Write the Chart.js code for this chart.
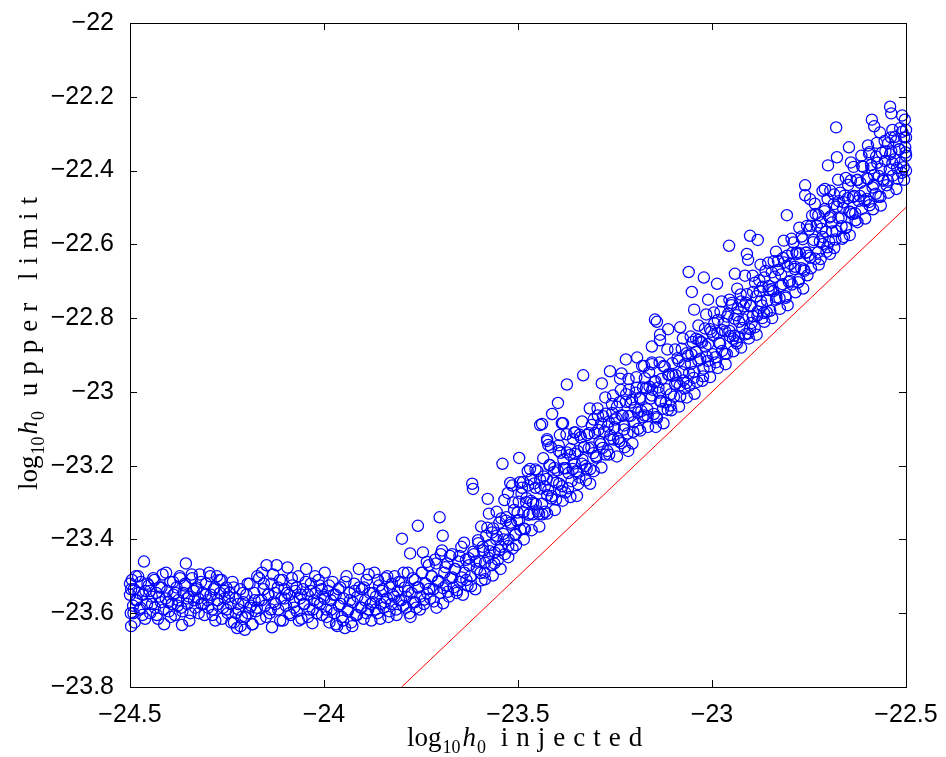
<!DOCTYPE html>
<html lang="en">
<head>
    <meta charset="UTF-8">
    <title>Upper limit vs injected h0</title>
    <script src="https://cdn.jsdelivr.net/npm/chart.js"></script>
    <style>
        body { margin: 0; background: #fff; }
        canvas { display: block; }
    </style>
</head>
<body>
    <canvas id="ulChart" width="946" height="757"></canvas>

    <script>
        // axis ticks
        const xTicks = [-24.5, -24, -23.5, -23, -22.5];
        const yTicks = [-23.8, -23.6, -23.4, -23.2, -23, -22.8, -22.6, -22.4, -22.2, -22];

        // [log10 h0 injected, log10 h0 upper limit]
        // flat part, upper limit stuck around -23.55
        const flatPoints = [
            [-24.500,-23.52],[-24.500,-23.55],[-24.498,-23.60],[-24.497,-23.635],[-24.495,-23.51],[-24.492,-23.58],[-24.490,-23.535],[-24.488,-23.625],
            [-24.485,-23.50],[-24.482,-23.565],[-24.478,-23.545],[-24.475,-23.59],[-24.472,-23.515],[-24.468,-23.605],[-24.464,-23.46],[-24.460,-23.54],
            [-24.456,-23.575],[-24.452,-23.525],[-24.448,-23.60],[-24.444,-23.555],[-24.440,-23.505],[-24.436,-23.585],[-24.432,-23.545],[-24.428,-23.615],
            [-24.424,-23.53],[-24.420,-23.57],[-24.416,-23.495],[-24.412,-23.63],[-24.408,-23.56],[-24.404,-23.54],[-24.400,-23.595],[-24.396,-23.515],
            [-24.392,-23.575],[-24.388,-23.55],[-24.384,-23.605],[-24.380,-23.53],[-24.376,-23.565],[-24.372,-23.50],[-24.368,-23.585],[-24.366,-23.632],
            [-24.362,-23.545],[-24.358,-23.52],[-24.356,-23.465],[-24.352,-23.575],[-24.348,-23.555],[-24.344,-23.60],[-24.340,-23.505],[-24.336,-23.54],
            [-24.332,-23.585],[-24.328,-23.53],[-24.324,-23.56],[-24.320,-23.495],[-24.316,-23.575],[-24.312,-23.545],[-24.308,-23.605],[-24.304,-23.52],
            [-24.300,-23.565],[-24.296,-23.49],[-24.292,-23.55],[-24.288,-23.59],[-24.284,-23.535],[-24.280,-23.62],[-24.276,-23.50],[-24.272,-23.575],
            [-24.268,-23.545],[-24.264,-23.51],[-24.260,-23.585],[-24.256,-23.56],[-24.252,-23.53],
            [-24.248,-23.60],[-24.244,-23.545],[-24.240,-23.575],[-24.236,-23.515],[-24.232,-23.625],[-24.228,-23.56],[-24.224,-23.64],[-24.220,-23.59],
            [-24.216,-23.535],[-24.212,-23.61],[-24.208,-23.57],[-24.204,-23.645],[-24.200,-23.55],[-24.196,-23.60],[-24.192,-23.52],[-24.188,-23.58],
            [-24.184,-23.63],[-24.180,-23.545],[-24.176,-23.595],[-24.172,-23.50],[-24.168,-23.565],[-24.164,-23.615],[-24.160,-23.49],[-24.156,-23.535],
            [-24.152,-23.58],[-24.148,-23.47],[-24.144,-23.55],[-24.140,-23.60],[-24.136,-23.52],[-24.134,-23.638],[-24.130,-23.57],[-24.126,-23.545],
            [-24.122,-23.47],[-24.118,-23.59],[-24.114,-23.51],[-24.110,-23.56],[-24.106,-23.62],[-24.102,-23.535],[-24.098,-23.58],[-24.094,-23.476],
            [-24.090,-23.55],[-24.086,-23.605],[-24.082,-23.525],[-24.078,-23.57],[-24.074,-23.54],[-24.070,-23.595],[-24.066,-23.50],[-24.062,-23.56],
            [-24.058,-23.615],[-24.054,-23.535],[-24.050,-23.575],[-24.046,-23.48],[-24.042,-23.55],[-24.038,-23.59],[-24.034,-23.52],[-24.030,-23.627],
            [-24.026,-23.565],[-24.022,-23.545],[-24.018,-23.60],[-24.014,-23.51],[-24.010,-23.575],[-24.006,-23.535],[-24.002,-23.555],
            [-23.998,-23.49],[-23.994,-23.59],[-23.990,-23.54],[-23.986,-23.625],[-23.982,-23.565],[-23.978,-23.515],[-23.974,-23.60],[-23.970,-23.55],
            [-23.966,-23.635],[-23.962,-23.58],[-23.958,-23.53],[-23.954,-23.61],[-23.950,-23.56],[-23.946,-23.64],[-23.942,-23.50],[-23.938,-23.59],
            [-23.934,-23.545],[-23.930,-23.625],[-23.926,-23.57],[-23.922,-23.52],[-23.918,-23.605],[-23.914,-23.555],[-23.910,-23.48],[-23.906,-23.585],
            [-23.902,-23.535],[-23.898,-23.615],[-23.894,-23.565],[-23.890,-23.51],[-23.886,-23.59],[-23.882,-23.545],[-23.878,-23.62],[-23.874,-23.57],
            [-23.870,-23.49],[-23.866,-23.555],[-23.862,-23.60],[-23.858,-23.525],[-23.854,-23.575],[-23.850,-23.54],[-23.846,-23.585],[-23.842,-23.505],
            [-23.838,-23.56],[-23.834,-23.61],[-23.830,-23.53],[-23.826,-23.575],[-23.822,-23.55],[-23.818,-23.50],[-23.814,-23.59],[-23.810,-23.54],
            [-23.806,-23.565],[-23.802,-23.515],[-23.799,-23.398],[-23.796,-23.58],[-23.792,-23.53],[-23.788,-23.555],[-23.784,-23.49],[-23.780,-23.60],
            [-23.778,-23.438],[-23.774,-23.545],[-23.770,-23.57],[-23.766,-23.51],[-23.762,-23.585],[-23.758,-23.363],[-23.756,-23.53],[-23.752,-23.555]
        ];
        const flatExtra = [
            [-24.497,-23.535],[-24.491,-23.60],[-24.485,-23.565],[-24.479,-23.50],[-24.473,-23.585],[-24.467,-23.55],[-24.461,-23.615],[-24.455,-23.52],
            [-24.449,-23.54],[-24.443,-23.575],[-24.437,-23.51],[-24.431,-23.605],[-24.425,-23.555],[-24.419,-23.53],[-24.413,-23.59],[-24.407,-23.49],
            [-24.401,-23.57],[-24.395,-23.61],[-24.389,-23.515],[-24.383,-23.545],[-24.377,-23.58],[-24.371,-23.505],[-24.365,-23.595],[-24.359,-23.525],
            [-24.353,-23.56],[-24.347,-23.62],[-24.341,-23.495],[-24.335,-23.565],[-24.329,-23.535],[-24.323,-23.60],[-24.317,-23.515],[-24.311,-23.575],
            [-24.305,-23.55],[-24.299,-23.585],[-24.293,-23.50],[-24.287,-23.605],[-24.281,-23.53],[-24.275,-23.565],[-24.269,-23.51],[-24.263,-23.615],
            [-24.257,-23.54],[-24.251,-23.59],[-24.245,-23.555],[-24.239,-23.625],[-24.233,-23.53],[-24.227,-23.60],[-24.221,-23.575],[-24.215,-23.635],
            [-24.209,-23.545],[-24.203,-23.61],[-24.197,-23.52],[-24.191,-23.585],[-24.185,-23.63],[-24.179,-23.565],[-24.173,-23.585],[-24.167,-23.505],
            [-24.161,-23.565],[-24.155,-23.52],[-24.149,-23.61],[-24.143,-23.55],[-24.137,-23.59],[-24.131,-23.495],[-24.125,-23.575],[-24.119,-23.53],
            [-24.113,-23.62],[-24.107,-23.51],[-24.101,-23.56],[-24.095,-23.545],[-24.089,-23.60],[-24.083,-23.505],[-24.077,-23.585],[-24.071,-23.53],
            [-24.065,-23.62],[-24.059,-23.55],[-24.053,-23.575],[-24.047,-23.515],[-24.041,-23.61],[-24.035,-23.54],[-24.029,-23.59],[-24.023,-23.50],
            [-24.017,-23.57],[-24.011,-23.525],[-24.005,-23.605],[-23.999,-23.56],[-23.993,-23.61],[-23.987,-23.525],[-23.981,-23.59],[-23.975,-23.55],
            [-23.969,-23.63],[-23.963,-23.535],[-23.957,-23.575],[-23.951,-23.62],[-23.945,-23.515],[-23.939,-23.595],[-23.933,-23.565],[-23.927,-23.635],
            [-23.921,-23.54],[-23.915,-23.605],[-23.909,-23.53],[-23.903,-23.585],[-23.897,-23.53],[-23.891,-23.60],[-23.885,-23.495],[-23.879,-23.575],
            [-23.873,-23.545],[-23.867,-23.59],[-23.861,-23.51],[-23.855,-23.615],[-23.849,-23.535],[-23.843,-23.57],[-23.837,-23.50],[-23.831,-23.595],
            [-23.825,-23.52],[-23.819,-23.555],[-23.813,-23.605],[-23.807,-23.515],[-23.801,-23.565],[-23.795,-23.49],[-23.789,-23.585],[-23.783,-23.54],
            [-23.777,-23.61],[-23.771,-23.505],[-23.765,-23.57],[-23.759,-23.53],[-23.753,-23.59]
        ];

        // knee, the limit starts to follow the injected value
        const kneePoints = [
            [-23.748,-23.49],[-23.745,-23.435],[-23.742,-23.575],[-23.738,-23.52],[-23.734,-23.545],[-23.730,-23.47],[-23.726,-23.56],[-23.722,-23.50],
            [-23.718,-23.535],[-23.714,-23.455],[-23.710,-23.585],[-23.706,-23.515],[-23.702,-23.34],[-23.700,-23.545],[-23.696,-23.43],[-23.694,-23.39],
            [-23.693,-23.573],[-23.690,-23.49],[-23.686,-23.525],[-23.682,-23.465],[-23.678,-23.555],[-23.674,-23.505],[-23.670,-23.44],[-23.666,-23.53],
            [-23.662,-23.48],[-23.658,-23.545],[-23.654,-23.46],[-23.650,-23.515],[-23.646,-23.42],[-23.642,-23.55],[-23.638,-23.49],[-23.634,-23.455],
            [-23.630,-23.525],[-23.626,-23.47],[-23.622,-23.50],[-23.618,-23.249],[-23.616,-23.263],[-23.614,-23.44],[-23.610,-23.535],[-23.606,-23.48],
            [-23.602,-23.41],[-23.598,-23.46],[-23.594,-23.511],[-23.590,-23.43],[-23.586,-23.49],[-23.582,-23.39],[-23.578,-23.29],[-23.576,-23.45],
            [-23.572,-23.415],[-23.568,-23.47],[-23.564,-23.37],[-23.560,-23.435],[-23.556,-23.40],[-23.552,-23.455],[-23.548,-23.355],[-23.544,-23.42],
            [-23.540,-23.195],[-23.538,-23.385],[-23.534,-23.44],[-23.530,-23.34],[-23.526,-23.274],[-23.524,-23.40],[-23.520,-23.247],[-23.518,-23.36],
            [-23.514,-23.425],[-23.510,-23.32],[-23.506,-23.385],[-23.502,-23.35]
        ];
        const kneeExtra = [
            [-23.747,-23.49],[-23.741,-23.563],[-23.735,-23.461],[-23.729,-23.534],[-23.723,-23.50],[-23.717,-23.568],[-23.711,-23.465],[-23.705,-23.512],
            [-23.699,-23.44],[-23.693,-23.532],[-23.687,-23.475],[-23.681,-23.542],[-23.675,-23.445],[-23.669,-23.503],[-23.663,-23.48],[-23.657,-23.538],
            [-23.651,-23.445],[-23.645,-23.503],[-23.639,-23.409],[-23.633,-23.51],[-23.627,-23.451],[-23.621,-23.527],[-23.615,-23.433],[-23.609,-23.46],
            [-23.603,-23.402],[-23.597,-23.491],[-23.591,-23.42],[-23.585,-23.463],[-23.579,-23.368],[-23.573,-23.432],[-23.567,-23.381],[-23.561,-23.465],
            [-23.555,-23.39],[-23.549,-23.429],[-23.543,-23.343],[-23.537,-23.40],[-23.531,-23.349],[-23.525,-23.418],[-23.519,-23.355],[-23.513,-23.30],
            [-23.507,-23.388],[-23.501,-23.327]
        ];

        // linear rise, -23.5 .. -23
        const risePoints = [
            [-23.498,-23.298],[-23.494,-23.374],[-23.490,-23.26],[-23.486,-23.326],[-23.482,-23.372],[-23.478,-23.288],[-23.474,-23.254],[-23.470,-23.33],
            [-23.466,-23.296],[-23.462,-23.332],[-23.458,-23.248],[-23.454,-23.304],[-23.450,-23.215],[-23.446,-23.331],[-23.442,-23.262],[-23.438,-23.303],
            [-23.434,-23.229],[-23.430,-23.325],[-23.426,-23.236],[-23.422,-23.267],[-23.418,-23.198],[-23.414,-23.289],[-23.410,-23.24],[-23.406,-23.206],
            [-23.402,-23.292],[-23.398,-23.213],[-23.394,-23.249],[-23.390,-23.165],[-23.386,-23.256],[-23.382,-23.207],[-23.378,-23.273],[-23.374,-23.164],
            [-23.370,-23.22],[-23.366,-23.171],[-23.362,-23.242],[-23.358,-23.128],[-23.354,-23.194],[-23.350,-23.215],[-23.346,-23.161],[-23.342,-23.232],
            [-23.338,-23.123],[-23.334,-23.184],[-23.330,-23.15],[-23.326,-23.201],[-23.322,-23.117],[-23.318,-23.153],[-23.314,-23.209],[-23.310,-23.09],
            [-23.306,-23.166],[-23.302,-23.112],[-23.298,-23.178],[-23.294,-23.064],[-23.290,-23.135],[-23.286,-23.086],[-23.282,-23.152],[-23.278,-23.108],
            [-23.274,-23.059],[-23.270,-23.16],[-23.266,-23.081],[-23.262,-23.117],[-23.258,-23.033],[-23.254,-23.129],[-23.250,-23.075],
            [-23.497,-23.179],[-23.487,-23.244],[-23.469,-23.209],[-23.443,-23.09],[-23.425,-23.133],[-23.422,-23.144],[-23.387,-23.085],[-23.374,-22.98],
            [-23.332,-22.955],[-23.397,-23.03],[-23.412,-23.06],[-23.384,-23.085],[-23.438,-23.087],[-23.425,-23.128],[-23.392,-23.117],[-23.352,-23.11],
            [-23.284,-22.977],[-23.263,-22.944],[-23.348,-23.282],[-23.314,-23.249],
            [-23.246,-23.071],[-23.242,-23.127],[-23.238,-23.028],[-23.234,-23.139],[-23.230,-23.065],[-23.226,-23.091],[-23.222,-23.027],[-23.218,-23.113],
            [-23.214,-22.994],[-23.210,-23.065],[-23.206,-23.021],[-23.202,-23.082],[-23.198,-23.043],[-23.194,-22.989],[-23.190,-23.10],[-23.186,-23.016],
            [-23.182,-23.052],[-23.178,-22.988],[-23.174,-23.064],[-23.170,-22.99],[-23.166,-23.066],[-23.162,-22.947],[-23.158,-23.018],[-23.154,-22.994],
            [-23.150,-23.06],[-23.146,-22.971],[-23.142,-23.072],[-23.138,-22.988],[-23.134,-23.024],[-23.130,-22.965],[-23.126,-23.046],[-23.122,-22.932],
            [-23.118,-22.993],[-23.114,-23.049],[-23.110,-22.955],[-23.106,-23.006],[-23.102,-22.922],[-23.098,-23.013],[-23.094,-22.954],[-23.090,-22.975],
            [-23.086,-22.916],[-23.082,-23.012],[-23.078,-22.883],[-23.074,-22.969],[-23.070,-22.925],[-23.066,-22.976],[-23.062,-22.902],[-23.058,-22.983],
            [-23.054,-22.924],[-23.050,-22.865],[-23.046,-22.946],[-23.042,-22.892],[-23.038,-22.973],[-23.034,-22.859],[-23.030,-22.91],[-23.026,-22.866],
            [-23.022,-22.937],[-23.018,-22.828],[-23.014,-22.904],[-23.010,-22.87],[-23.006,-22.931],[-23.002,-22.837],
            [-23.237,-22.964],[-23.233,-22.95],[-23.222,-22.912],[-23.193,-22.907],[-23.180,-22.93],[-23.155,-22.92],[-23.142,-22.81],[-23.113,-22.83],
            [-23.082,-22.825],[-23.134,-22.86],[-23.060,-22.675],[-23.052,-22.729],[-23.046,-22.777],[-23.147,-22.804],[-23.134,-22.845],[-23.155,-22.877],
            [-23.021,-22.69],[-23.010,-22.75],[-23.216,-23.16]
        ];
        const riseExtra = [
            [-23.497,-23.347],[-23.491,-23.276],[-23.485,-23.37],[-23.479,-23.299],[-23.473,-23.333],[-23.467,-23.237],[-23.461,-23.301],[-23.455,-23.26],
            [-23.449,-23.324],[-23.443,-23.238],[-23.437,-23.332],[-23.431,-23.256],[-23.425,-23.28],[-23.419,-23.199],[-23.413,-23.283],[-23.407,-23.217],
            [-23.401,-23.246],[-23.395,-23.16],[-23.389,-23.269],[-23.383,-23.183],[-23.377,-23.207],[-23.371,-23.261],[-23.365,-23.155],[-23.359,-23.209],
            [-23.353,-23.168],[-23.347,-23.217],[-23.341,-23.116],[-23.335,-23.195],[-23.329,-23.149],[-23.323,-23.208],[-23.317,-23.112],[-23.311,-23.151],
            [-23.305,-23.075],[-23.299,-23.174],[-23.293,-23.103],[-23.287,-23.142],[-23.281,-23.066],[-23.275,-23.17],[-23.269,-23.094],[-23.263,-23.128],
            [-23.257,-23.057],[-23.251,-23.096],[-23.245,-23.04],[-23.239,-23.134],[-23.233,-23.063],[-23.227,-23.102],[-23.221,-23.006],[-23.215,-23.065],
            [-23.209,-23.029],[-23.203,-23.108],[-23.197,-23.002],[-23.191,-23.056],[-23.185,-23.02],[-23.179,-23.069],[-23.173,-22.963],[-23.167,-23.047],
            [-23.161,-22.986],[-23.155,-23.01],[-23.149,-22.974],[-23.143,-23.068],[-23.137,-23.002],[-23.131,-23.026],[-23.125,-22.93],[-23.119,-23.029],
            [-23.113,-22.953],[-23.107,-23.037],[-23.101,-22.956],[-23.095,-22.98],[-23.089,-22.909],[-23.083,-22.983],[-23.077,-22.947],[-23.071,-22.991],
            [-23.065,-22.895],[-23.059,-22.949],[-23.053,-22.898],[-23.047,-22.962],[-23.041,-22.856],[-23.035,-22.915],[-23.029,-22.864],[-23.023,-22.958],
            [-23.017,-22.877],[-23.011,-22.916],[-23.005,-22.83]
        ];

        // top end, -23 .. -22.5
        const topPoints = [
            [-22.998,-22.898],[-22.994,-22.814],[-22.990,-22.92],[-22.986,-22.841],[-22.982,-22.867],[-22.978,-22.783],[-22.974,-22.889],[-22.970,-22.815],
            [-22.966,-22.836],[-22.962,-22.897],[-22.958,-22.788],[-22.954,-22.849],[-22.950,-22.765],[-22.946,-22.856],[-22.942,-22.802],[-22.938,-22.863],
            [-22.934,-22.774],[-22.930,-22.81],[-22.926,-22.736],[-22.922,-22.827],[-22.918,-22.768],[-22.914,-22.844],[-22.910,-22.735],[-22.906,-22.796],
            [-22.902,-22.767],[-22.898,-22.813],[-22.894,-22.729],[-22.890,-22.825],[-22.886,-22.741],[-22.882,-22.782],[-22.878,-22.698],[-22.874,-22.754],
            [-22.870,-22.715],[-22.866,-22.786],[-22.862,-22.672],[-22.858,-22.753],[-22.854,-22.724],[-22.850,-22.78],[-22.846,-22.676],[-22.842,-22.727],
            [-22.838,-22.688],[-22.834,-22.744],[-22.830,-22.645],[-22.826,-22.746],[-22.822,-22.682],[-22.818,-22.708],[-22.814,-22.649],[-22.810,-22.745],
            [-22.806,-22.631],[-22.802,-22.702],[-22.798,-22.653],[-22.794,-22.709],[-22.790,-22.595],[-22.786,-22.661],[-22.782,-22.622],[-22.778,-22.703],
            [-22.774,-22.624],[-22.770,-22.665],[-22.766,-22.586],[-22.762,-22.672],[-22.758,-22.623],[-22.754,-22.684],
            [-22.987,-22.707],[-22.956,-22.604],[-22.902,-22.577],[-22.882,-22.588],[-22.941,-22.68],[-22.910,-22.626],[-22.907,-22.642],[-22.807,-22.521],
            [-22.760,-22.44],[-22.760,-22.467],[-22.747,-22.478],[-22.936,-22.869],[-22.902,-22.83],[-22.870,-22.80],
            [-22.750,-22.56],[-22.746,-22.636],[-22.742,-22.522],[-22.738,-22.588],[-22.734,-22.639],[-22.730,-22.55],[-22.726,-22.521],[-22.722,-22.592],
            [-22.718,-22.558],[-22.714,-22.599],[-22.710,-22.51],[-22.706,-22.566],[-22.702,-22.477],[-22.698,-22.593],[-22.694,-22.524],[-22.690,-22.565],
            [-22.686,-22.491],[-22.682,-22.587],[-22.678,-22.498],[-22.674,-22.529],[-22.670,-22.46],[-22.666,-22.551],[-22.662,-22.502],[-22.658,-22.468],
            [-22.654,-22.554],[-22.650,-22.475],[-22.646,-22.511],[-22.642,-22.427],[-22.638,-22.518],[-22.634,-22.469],[-22.630,-22.535],[-22.626,-22.426],
            [-22.622,-22.482],[-22.618,-22.433],[-22.614,-22.504],[-22.610,-22.39],[-22.606,-22.456],[-22.602,-22.477],[-22.598,-22.423],[-22.594,-22.494],
            [-22.590,-22.385],[-22.586,-22.446],[-22.582,-22.412],[-22.578,-22.463],[-22.574,-22.379],[-22.570,-22.415],[-22.566,-22.471],[-22.562,-22.352],
            [-22.558,-22.428],[-22.554,-22.374],[-22.550,-22.44],[-22.546,-22.326],[-22.542,-22.397],[-22.538,-22.348],[-22.534,-22.414],[-22.530,-22.37],
            [-22.526,-22.321],[-22.522,-22.422],[-22.518,-22.343],[-22.514,-22.379],[-22.510,-22.295],[-22.506,-22.391],[-22.502,-22.337],[-22.500,-22.36],
            [-22.500,-22.40],[-22.500,-22.31],
            [-22.701,-22.386],[-22.678,-22.364],[-22.680,-22.283],[-22.541,-22.227],[-22.538,-22.245],[-22.510,-22.251],[-22.588,-22.262],[-22.582,-22.28],
            [-22.567,-22.297],[-22.539,-22.31],[-22.647,-22.337],[-22.642,-22.378],[-22.598,-22.332],[-22.594,-22.35],[-22.503,-22.262],[-22.500,-22.29],
            [-22.696,-22.626],[-22.720,-22.64],[-22.660,-22.58],[-22.709,-22.45]
        ];
        const topExtra = [
            [-22.997,-22.847],[-22.991,-22.906],[-22.985,-22.805],[-22.979,-22.869],[-22.973,-22.833],[-22.967,-22.897],[-22.961,-22.796],[-22.955,-22.835],
            [-22.949,-22.759],[-22.943,-22.848],[-22.937,-22.792],[-22.931,-22.851],[-22.925,-22.755],[-22.919,-22.804],[-22.913,-22.758],[-22.907,-22.842],
            [-22.901,-22.766],[-22.895,-22.795],[-22.889,-22.704],[-22.883,-22.793],[-22.877,-22.727],[-22.871,-22.766],[-22.865,-22.69],[-22.859,-22.784],
            [-22.853,-22.713],[-22.847,-22.722],[-22.841,-22.646],[-22.835,-22.75],[-22.829,-22.669],[-22.823,-22.713],[-22.817,-22.637],[-22.811,-22.741],
            [-22.805,-22.66],[-22.799,-22.699],[-22.793,-22.623],[-22.787,-22.667],[-22.781,-22.626],[-22.775,-22.695],[-22.769,-22.579],[-22.763,-22.668],
            [-22.757,-22.622],[-22.751,-22.631],[-22.745,-22.55],[-22.739,-22.594],[-22.733,-22.518],[-22.727,-22.622],[-22.721,-22.541],[-22.715,-22.58],
            [-22.709,-22.504],[-22.703,-22.608],[-22.697,-22.527],[-22.691,-22.541],[-22.685,-22.465],[-22.679,-22.564],[-22.673,-22.483],[-22.667,-22.527],
            [-22.661,-22.486],[-22.655,-22.555],[-22.649,-22.439],[-22.643,-22.513],[-22.637,-22.472],[-22.631,-22.516],[-22.625,-22.425],[-22.619,-22.469],
            [-22.613,-22.388],[-22.607,-22.482],[-22.601,-22.421],[-22.595,-22.485],[-22.589,-22.394],[-22.583,-22.438],[-22.577,-22.362],[-22.571,-22.471],
            [-22.565,-22.395],[-22.559,-22.424],[-22.553,-22.348],[-22.547,-22.427],[-22.541,-22.356],[-22.535,-22.38],[-22.529,-22.309],[-22.523,-22.393],
            [-22.517,-22.342],[-22.511,-22.406],[-22.505,-22.31],[-22.501,-22.351]
        ];

        // loose points on both edges of the rising band
        const edgePoints = [
            [-23.595,-23.365],[-23.585,-23.508],[-23.575,-23.33],[-23.565,-23.498],[-23.555,-23.325],[-23.545,-23.48],[-23.535,-23.293],[-23.525,-23.448],
            [-23.515,-23.254],[-23.505,-23.415],[-23.495,-23.245],[-23.485,-23.40],[-23.475,-23.215],[-23.465,-23.375],[-23.455,-23.21],[-23.445,-23.365],
            [-23.435,-23.18],[-23.425,-23.33],[-23.415,-23.15],[-23.405,-23.32],[-23.395,-23.145],[-23.385,-23.295],[-23.375,-23.115],[-23.365,-23.285],
            [-23.355,-23.11],[-23.345,-23.25],[-23.335,-23.08],[-23.325,-23.24],[-23.315,-23.045],[-23.305,-23.215],[-23.295,-23.045],[-23.285,-23.205],
            [-23.275,-23.015],[-23.265,-23.17],[-23.255,-23.01],[-23.245,-23.175],[-23.235,-22.995],[-23.225,-23.15],[-23.215,-22.965],[-23.205,-23.14],
            [-23.195,-22.96],[-23.185,-23.105],[-23.175,-22.93],[-23.165,-23.095],[-23.155,-22.925],[-23.145,-23.095],[-23.135,-22.92],[-23.125,-23.085],
            [-23.115,-22.885],[-23.105,-23.05],[-23.095,-22.885],[-23.085,-23.04],[-23.075,-22.855],[-23.065,-23.015],[-23.055,-22.85],[-23.045,-23.005],
            [-23.035,-22.82],[-23.025,-22.97],[-23.015,-22.79],[-23.005,-22.96],[-22.995,-22.785],[-22.985,-22.935],[-22.975,-22.755],[-22.965,-22.925],
            [-22.955,-22.75],[-22.945,-22.89],[-22.935,-22.72],[-22.925,-22.88],[-22.915,-22.685],[-22.905,-22.855],[-22.895,-22.685],[-22.885,-22.845],
            [-22.875,-22.655],[-22.865,-22.81],[-22.855,-22.65],[-22.845,-22.80],[-22.835,-22.62],[-22.825,-22.775],[-22.815,-22.59],[-22.805,-22.765],
            [-22.795,-22.585],[-22.785,-22.73],[-22.775,-22.555],[-22.765,-22.72],[-22.755,-22.55],[-22.745,-22.665],[-22.735,-22.49],[-22.725,-22.655],
            [-22.715,-22.455],[-22.705,-22.62],[-22.695,-22.455],[-22.685,-22.61],[-22.675,-22.425],[-22.665,-22.585],[-22.655,-22.42],[-22.645,-22.575],
            [-22.635,-22.39],[-22.625,-22.54],[-22.615,-22.36],[-22.605,-22.53],[-22.595,-22.355],[-22.585,-22.505],[-22.575,-22.325],[-22.565,-22.495],
            [-22.555,-22.32],[-22.545,-22.46],[-22.535,-22.29],[-22.525,-22.45],[-22.515,-22.285],[-22.505,-22.425]
        ];

        // upper limit = injected
        const refLine = [[-23.8, -23.8], [-22.5, -22.5]];

        const toXY = arr => arr.map(p => ({ x: p[0], y: p[1] }));
        const allPoints = [].concat(flatPoints, flatExtra, kneePoints, kneeExtra,
            risePoints, riseExtra, topPoints, topExtra, edgePoints);

        // matlab style labels use a real minus sign
        const fmt = v => String(+Number(v).toFixed(1)).replace('-', '\u2212');

        const tickFont = { family: '"Liberation Sans", Arial, sans-serif', size: 25 };

        // box round the axes with inward ticks on all four sides
        const boxTicks = {
            id: 'boxTicks',
            afterDatasetsDraw(chart) {
                const { ctx, chartArea: a, scales } = chart;
                ctx.save();
                ctx.strokeStyle = '#000';
                ctx.lineWidth = 1;
                ctx.beginPath();
                xTicks.forEach(v => {
                    const px = Math.round(scales.x.getPixelForValue(v)) + 0.5;
                    ctx.moveTo(px, a.bottom); ctx.lineTo(px, a.bottom - 7);
                    ctx.moveTo(px, a.top); ctx.lineTo(px, a.top + 7);
                });
                yTicks.forEach(v => {
                    const py = Math.round(scales.y.getPixelForValue(v)) + 0.5;
                    ctx.moveTo(a.left, py); ctx.lineTo(a.left + 7, py);
                    ctx.moveTo(a.right, py); ctx.lineTo(a.right - 7, py);
                });
                ctx.stroke();
                ctx.strokeRect(Math.round(a.left) + 0.5, Math.round(a.top) + 0.5,
                    Math.round(a.right - a.left), Math.round(a.bottom - a.top));
                ctx.restore();
            }
        };

        // "log10 h0 ..." with subscripts and italic h
        function drawLabel(ctx, word, x, y) {
            const serif = '"Liberation Serif", serif';
            ctx.fillStyle = '#000';
            ctx.textAlign = 'left';
            ctx.textBaseline = 'alphabetic';
            ctx.font = '27px ' + serif;
            ctx.fillText('log', x, y);
            x += ctx.measureText('log').width + 1;
            ctx.font = '18px ' + serif;
            ctx.fillText('10', x, y + 7);
            x += ctx.measureText('10').width + 2;
            ctx.font = 'italic 27px ' + serif;
            ctx.fillText('h', x, y);
            x += ctx.measureText('h').width + 1;
            ctx.font = '18px ' + serif;
            ctx.fillText('0', x, y + 7);
            x += ctx.measureText('0').width;
            ctx.font = '27px ' + serif;
            ctx.letterSpacing = '8px';
            ctx.fillText(word, x, y);
            ctx.letterSpacing = '0px';
        }

        const axisTitles = {
            id: 'axisTitles',
            afterDraw(chart) {
                const ctx = chart.ctx;
                ctx.save();
                drawLabel(ctx, ' injected', 407, 746);
                ctx.restore();
                ctx.save();
                ctx.translate(37, 490);
                ctx.rotate(-Math.PI / 2);
                drawLabel(ctx, ' upper limit', 0, 0);
                ctx.restore();
            }
        };

        const ctx = document.getElementById('ulChart').getContext('2d');
        new Chart(ctx, {
            type: 'scatter',
            data: {
                datasets: [
                    {
                        label: 'upper limit',
                        data: toXY(allPoints),
                        pointStyle: 'circle',
                        pointRadius: 5.6,
                        pointBorderWidth: 1.25,
                        borderColor: 'rgb(0,0,255)',
                        backgroundColor: 'rgba(0,0,0,0)',
                        clip: false
                    },
                    {
                        type: 'line',
                        label: 'injected',
                        data: toXY(refLine),
                        borderColor: 'rgb(255,0,0)',
                        borderWidth: 1,
                        pointRadius: 0,
                        fill: false
                    }
                ]
            },
            options: {
                responsive: false,
                animation: false,
                events: [],
                layout: { padding: { top: 20, right: 40, left: 0, bottom: 0 } },
                plugins: {
                    legend: { display: false },
                    tooltip: { enabled: false }
                },
                scales: {
                    x: {
                        type: 'linear',
                        min: -24.5,
                        max: -22.5,
                        afterBuildTicks: s => { s.ticks = xTicks.map(v => ({ value: v })); },
                        afterFit: s => { s.height = 70; },
                        grid: { display: false },
                        border: { display: false },
                        ticks: {
                            font: tickFont,
                            color: '#000',
                            padding: 5,
                            maxRotation: 0,
                            autoSkip: false,
                            callback: fmt
                        }
                    },
                    y: {
                        type: 'linear',
                        min: -23.8,
                        max: -22,
                        afterBuildTicks: s => { s.ticks = yTicks.map(v => ({ value: v })); },
                        afterFit: s => { s.width = 130; },
                        grid: { display: false },
                        border: { display: false },
                        ticks: {
                            font: tickFont,
                            color: '#000',
                            padding: 8,
                            autoSkip: false,
                            callback: fmt
                        }
                    }
                }
            },
            plugins: [boxTicks, axisTitles]
        });
    </script>
</body>
</html>
